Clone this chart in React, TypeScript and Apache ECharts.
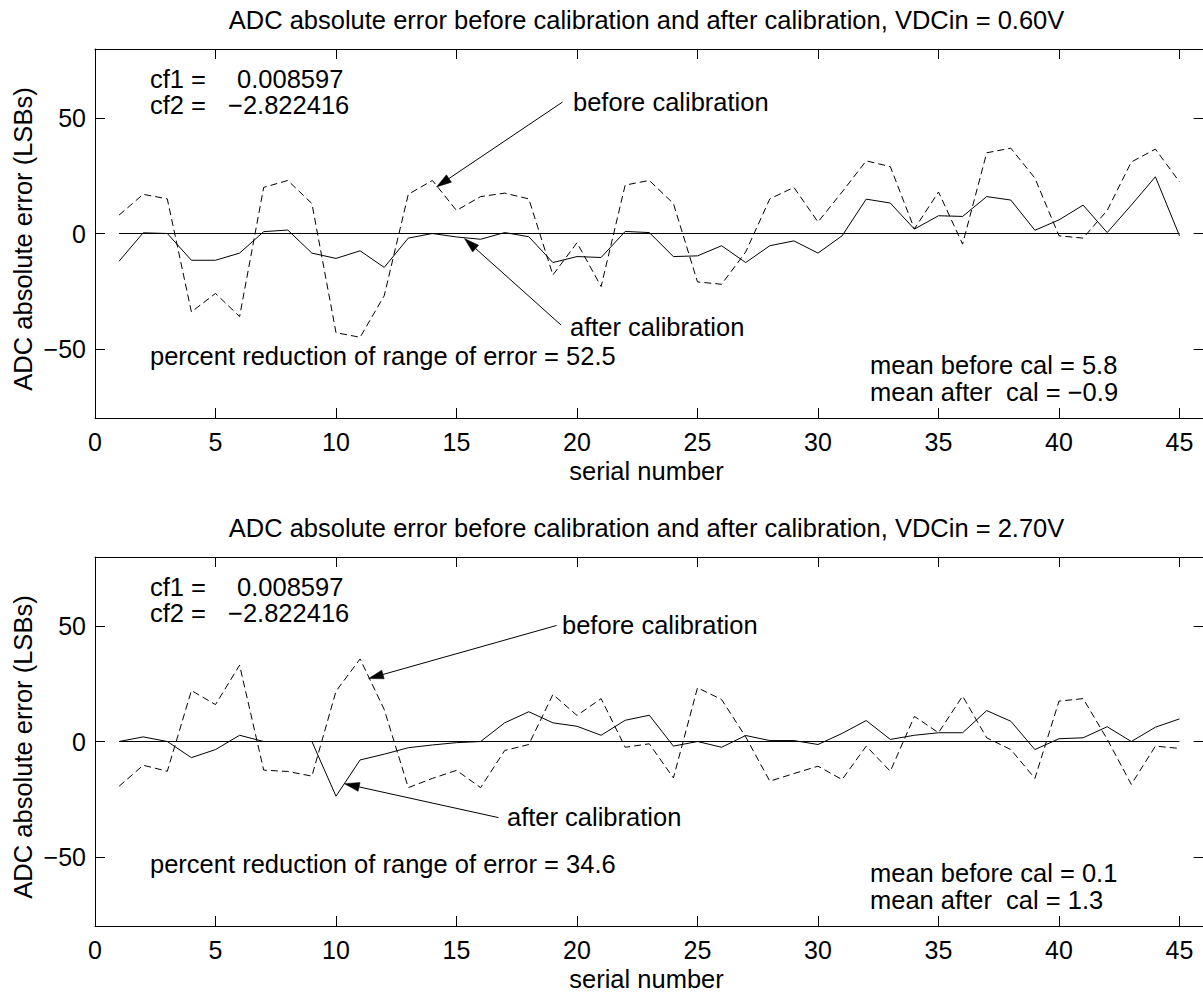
import React, { useEffect, useRef } from "react";
import * as echarts from "echarts";

// ---------------- data ----------------
const serial = [
  1, 2, 3, 4, 5, 6, 7, 8, 9, 10, 11, 12, 13, 14, 15, 16, 17, 18, 19, 20, 21, 22, 23,
  24, 25, 26, 27, 28, 29, 30, 31, 32, 33, 34, 35, 36, 37, 38, 39, 40, 41, 42, 43, 44, 45,
];

// VDCin = 0.60V
const beforeTop = [
  8, 17, 15, -34, -26, -36, 20, 23, 13, -43, -45, -27, 17, 23, 10, 16, 17.5, 15, -18, -4,
  -23, 21, 23, 13, -21, -22, -8, 15, 20, 5, 18, 31.5, 29, 2, 18, -4.6, 35, 37, 24, -1, -2,
  10, 31, 36.6, 22.4,
];
const afterTop = [
  -12, 0.3, 0, -11.6, -11.6, -8.5, 0.8, 1.5, -8.5, -10.8, -7.5, -14.7, -2, 0, -1.5, -2.5,
  0.4, -1.4, -12.6, -10, -10.4, 0.9, 0.4, -10, -9.7, -5.3, -12.6, -5.3, -3.2, -8.5, -1, 14.9,
  13.2, 1.9, 7.7, 7.4, 16, 14.5, 1.4, 5.9, 12.3, 0.4, 12.3, 24.6, -1,
];

// VDCin = 2.70V
const beforeBottom = [
  -19.4, -10.3, -12.9, 22.1, 16, 33.1, -12.4, -13, -15, 21.8, 35.8, 13.9, -20, -16, -12.5,
  -20, -3.9, -1.3, 20.4, 11.3, 18.6, -2.5, -1, -15.8, 23.3, 18.2, 2, -17.2, -13.9, -10.7,
  -16.5, -2, -12.9, 10.9, 3.8, 19.7, 1.6, -3.5, -16, 17.5, 18.6, 1, -18.6, -2, -3,
];
const afterBottom = [
  0, 2, 0, -7, -3.5, 2.7, 0, 0, 0, -23.7, -8, -5.5, -2.7, -1.5, -0.5, 0, 8.1, 12.9, 8.1, 6.6,
  2.7, 9.2, 11.4, -2, 0, -2.5, 2.6, 0.4, 0.4, -1.3, 3.5, 9.1, 0.9, 2.7, 3.8, 3.8, 13.4, 8.8,
  -3.5, 1.2, 1.6, 6.4, 0, 6.2, 9.8,
];

const zeroLine = [
  [1, 0],
  [45, 0],
];

const xTicks = [0, 5, 10, 15, 20, 25, 30, 35, 40, 45];
const yTicks = [-50, 0, 50];

const titles = [
  "ADC absolute error before calibration and after calibration, VDCin = 0.60V",
  "ADC absolute error before calibration and after calibration, VDCin = 2.70V",
];
const cf1Value = "0.008597";
const cf2Value = "\u22122.822416";
const reductions = ["52.5", "34.6"];
const meansBefore = ["5.8", "0.1"];
const meansAfter = ["\u22120.9", "1.3"];

// arrows (data coordinates): tail -> tip
const arrowTails = [
  [19.4, 57.0],
  [19.34, -39.7],
  [19.15, 50.3],
  [16.74, -33.0],
];
const arrowTips = [
  [14.17, 20.2],
  [15.33, -2.2],
  [11.35, 27.3],
  [10.35, -18.3],
];
const arrowPanels = [0, 0, 1, 1];

// ---------------- layout ----------------
const FONT = "'Liberation Sans', Arial, Helvetica, sans-serif";
const FS = 25.5;
const GRID_LEFT = 95;
const GRID_W = 1108.6;
const GRID_TOPS = [49, 557];
const GRID_H = 369;
const X_MAX = 46;

const beforeLabelPos = [
  [573, 101.5],
  [562, 625],
];
const afterLabelPos = [
  [570, 326.5],
  [507, 816.5],
];

function txt(text: string, x: number, y: number, align = "left", rotation = 0) {
  return {
    type: "text",
    x,
    y,
    rotation,
    silent: true,
    style: {
      text,
      fill: "#000",
      fontSize: FS,
      fontFamily: FONT,
      textAlign: align,
      align,
      textVerticalAlign: "middle",
      verticalAlign: "middle",
    },
  };
}

export default function App() {
  const ref = useRef<HTMLDivElement>(null);

  useEffect(() => {
    if (!ref.current) return;
    const chart = echarts.init(ref.current, null, { renderer: "svg" });

    const axisLineStyle = { show: true, onZero: false, lineStyle: { color: "#000", width: 1 } };
    const tickBase = { show: true, inside: true, length: 10, lineStyle: { color: "#000", width: 1 } };

    const xAxis: any[] = [];
    const yAxis: any[] = [];
    GRID_TOPS.forEach((_, g) => {
      xAxis.push({
        type: "value",
        gridIndex: g,
        position: "bottom",
        min: 0,
        max: X_MAX,
        axisLine: axisLineStyle,
        axisTick: { ...tickBase, customValues: xTicks },
        axisLabel: {
          show: true,
          customValues: xTicks,
          fontSize: 25,
          fontFamily: FONT,
          color: "#000",
          margin: 11,
        },
        splitLine: { show: false },
      });
      xAxis.push({
        type: "value",
        gridIndex: g,
        position: "top",
        min: 0,
        max: X_MAX,
        axisLine: axisLineStyle,
        axisTick: { ...tickBase, customValues: xTicks },
        axisLabel: { show: false },
        splitLine: { show: false },
      });
      yAxis.push({
        type: "value",
        gridIndex: g,
        position: "left",
        min: -80,
        max: 80,
        axisLine: axisLineStyle,
        axisTick: { ...tickBase, customValues: yTicks },
        axisLabel: {
          show: true,
          customValues: yTicks,
          fontSize: 25,
          fontFamily: FONT,
          color: "#000",
          margin: 9,
          formatter: (v: number) => String(v).replace("-", "\u2212"),
        },
        splitLine: { show: false },
      });
      yAxis.push({
        type: "value",
        gridIndex: g,
        position: "right",
        min: -80,
        max: 80,
        axisLine: axisLineStyle,
        axisTick: { ...tickBase, customValues: yTicks },
        axisLabel: { show: false },
        splitLine: { show: false },
      });
    });

    const panels = [
      { before: beforeTop, after: afterTop },
      { before: beforeBottom, after: afterBottom },
    ];

    const series: any[] = [];
    panels.forEach((p, g) => {
      const common = {
        type: "line",
        xAxisIndex: g * 2,
        yAxisIndex: g * 2,
        showSymbol: false,
        symbol: "none",
        silent: true,
        itemStyle: { color: "#000" },
      };
      series.push({
        ...common,
        name: "before calibration",
        data: serial.map((s, i) => [s, p.before[i]]),
        lineStyle: { color: "#000", width: 1, type: [7, 4] },
      });
      series.push({
        ...common,
        name: "after calibration",
        data: serial.map((s, i) => [s, p.after[i]]),
        lineStyle: { color: "#000", width: 1, type: "solid" },
      });
      series.push({
        ...common,
        name: "zero",
        data: zeroLine,
        lineStyle: { color: "#000", width: 1, type: "solid" },
      });
    });

    chart.setOption({
      animation: false,
      backgroundColor: "#fff",
      grid: GRID_TOPS.map((t) => ({
        left: GRID_LEFT,
        top: t,
        width: GRID_W,
        height: GRID_H,
        containLabel: false,
        outerBoundsMode: "none",
      })),
      xAxis,
      yAxis,
      series,
    });

    const elements: any[] = [];
    GRID_TOPS.forEach((t, g) => {
      elements.push(txt(titles[g], 646.5, t - 29, "center"));
      elements.push(txt("cf1 =", 150, t + 30));
      elements.push(txt(cf1Value, 237, t + 30));
      elements.push(txt("cf2 =", 150, t + 56));
      elements.push(txt(cf2Value, 228, t + 56));
      elements.push(txt("before calibration", beforeLabelPos[g][0], beforeLabelPos[g][1]));
      elements.push(txt("after calibration", afterLabelPos[g][0], afterLabelPos[g][1]));
      elements.push(txt("percent reduction of range of error = " + reductions[g], 150, t + 307));
      elements.push(txt("mean before cal = " + meansBefore[g], 870, t + 316));
      elements.push(txt("mean after \u00A0cal = " + meansAfter[g], 870, t + 343));
      elements.push(txt("serial number", 646.5, t + 422, "center"));
      elements.push(txt("ADC absolute error (LSBs)", 22.5, t + 190, "center", Math.PI / 2));
    });

    arrowTails.forEach((tailD, i) => {
      const idx = arrowPanels[i] * 2;
      const tail = chart.convertToPixel({ xAxisIndex: idx, yAxisIndex: idx }, tailD) as number[];
      const tip = chart.convertToPixel({ xAxisIndex: idx, yAxisIndex: idx }, arrowTips[i]) as number[];
      const dx = tip[0] - tail[0];
      const dy = tip[1] - tail[1];
      const len = Math.sqrt(dx * dx + dy * dy);
      const ux = dx / len;
      const uy = dy / len;
      const headLen = 15;
      const headHalf = 4.5;
      const bx = tip[0] - ux * headLen;
      const by = tip[1] - uy * headLen;
      const nx = -uy;
      const ny = ux;
      elements.push({
        type: "line",
        silent: true,
        shape: { x1: tail[0], y1: tail[1], x2: bx, y2: by },
        style: { stroke: "#000", lineWidth: 1 },
      });
      elements.push({
        type: "polygon",
        silent: true,
        shape: {
          points: [
            [tip[0], tip[1]],
            [bx + nx * headHalf, by + ny * headHalf],
            [bx - nx * headHalf, by - ny * headHalf],
          ],
        },
        style: { fill: "#000", stroke: "#000", lineWidth: 0.5 },
      });
    });

    chart.setOption({ graphic: elements });

    return () => {
      chart.dispose();
    };
  }, []);

  return (
    <div
      ref={ref}
      style={{ position: "absolute", left: 0, top: 0, width: 1203, height: 993, background: "#fff" }}
    />
  );
}
